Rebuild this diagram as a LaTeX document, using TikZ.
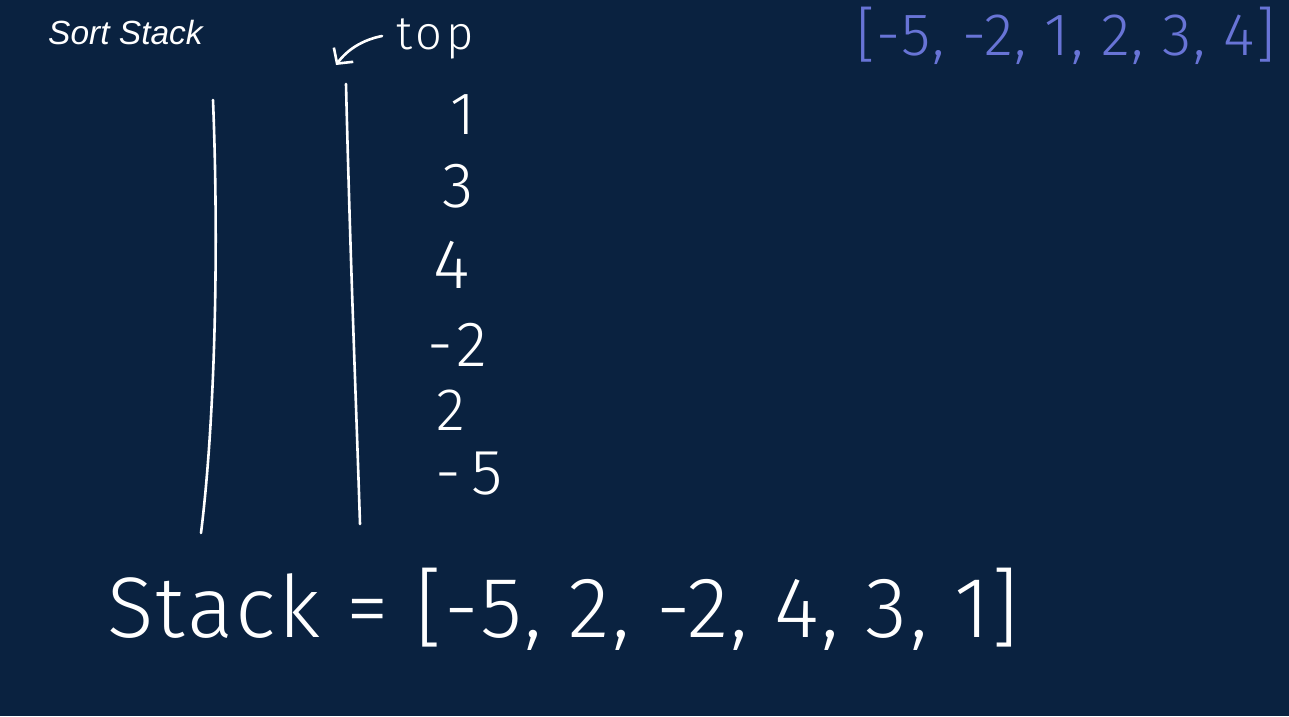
\documentclass[tikz,border=0pt]{standalone}
\usepackage{fontspec}
\usetikzlibrary{arrows.meta}
\newfontfamily\handfont{Fira Sans Light}
\newfontfamily\titlefont{Liberation Sans}
\definecolor{bgnavy}{RGB}{10,34,64}
\definecolor{penblue}{RGB}{104,116,214}
\begin{document}
\begin{tikzpicture}[x=1pt,y=-1pt,
  hand/.style={text=white, inner sep=0pt},
  pen/.style={draw=white, line width=2.6pt, line cap=round, line join=round}]
\fill[bgnavy] (0,0) rectangle (1289,716);
\useasboundingbox (0,0) rectangle (1289,716);
% title
\node[anchor=base west, text=white, inner sep=0pt, font={\titlefont\itshape\fontsize{33.5}{40}\selectfont}] (title) at (48,44) {Sort Stack};
% top label and arrow
\node[hand, anchor=base west, font={\handfont\fontsize{47}{56}\selectfont\addfontfeature{LetterSpace=8}}] (toplabel) at (396,49) {top};
\coordinate (arrowtail) at (382,36);
\coordinate (arrowtip) at (336,65);
\draw[pen, -{Straight Barb[length=11pt,width=24pt]}] (arrowtail) .. controls (362,40) and (347,50) .. (arrowtip);
% stack walls
\draw[pen] (213,100) .. controls (219,250) and (215,420) .. (201,533);
\draw[pen] (346,84) .. controls (350,250) and (356,400) .. (360,524);
% stack items
\node[hand, font={\handfont\fontsize{60}{70}\selectfont}] (n1) at (463,115) {1};
\node[hand, font={\handfont\fontsize{64}{70}\selectfont}] (n2) at (458,186) {3};
\node[hand, font={\handfont\fontsize{70}{80}\selectfont}] (n3) at (452,265) {4};
\node[hand, font={\handfont\fontsize{64}{70}\selectfont\addfontfeature{LetterSpace=12}}] (n4) at (457,345) {-2};
\node[hand, font={\handfont\fontsize{60}{70}\selectfont}] (n5) at (451,410) {2};
\node[hand, font={\handfont\fontsize{64}{80}\selectfont\addfontfeature{LetterSpace=18}}] (n6) at (469,474) {-5};
% bottom line
\node[hand, anchor=base west, font={\handfont\fontsize{86}{96}\selectfont\addfontfeature{LetterSpace=2.7}}] (stackline) at (107,637) {Stack = [-5, 2, -2, 4, 3, 1]};
% sorted result
\node[anchor=base west, inner sep=0pt, text=penblue, font={\handfont\fontsize{60}{70}\selectfont\addfontfeature{LetterSpace=2.4}}] (sorted) at (856,55) {[-5, -2, 1, 2, 3, 4]};
\end{tikzpicture}
\end{document}
